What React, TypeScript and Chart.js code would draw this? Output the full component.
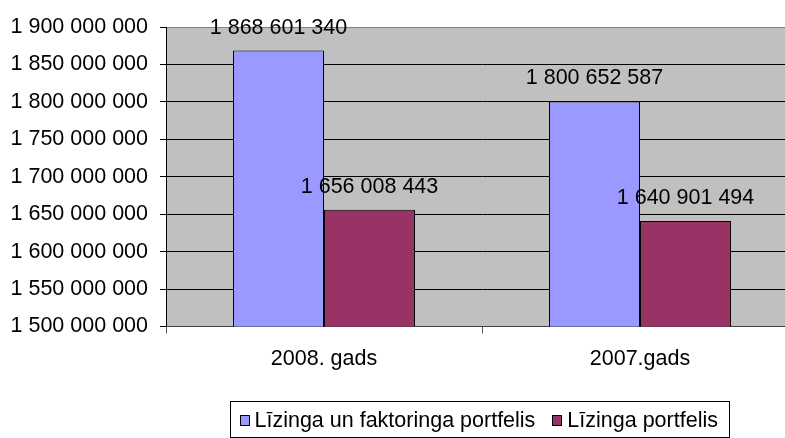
import React, { useEffect, useRef } from "react";
import { Chart, registerables } from "chart.js";

Chart.register(...registerables);

const categories = ["2008. gads", "2007.gads"];
const seriesNames = ["Līzinga un faktoringa portfelis", "Līzinga portfelis"];
const totalPortfolio = [1868601340, 1800652587];
const leasingPortfolio = [1656008443, 1640901494];
const seriesColors = ["#9999FF", "#993366"];
const yMin = 1500000000;
const yMax = 1900000000;
const yStep = 50000000;

const FONT = '"Liberation Sans", Arial, sans-serif';
const FS = 21.5;

const fmt = (v: number) =>
  Math.round(v).toString().replace(/\B(?=(\d{3})+(?!\d))/g, " ");

const bgPlugin = {
  id: "bgPlugin",
  beforeDraw(chart: any) {
    const { ctx, chartArea } = chart;
    ctx.save();
    ctx.fillStyle = "#C0C0C0";
    ctx.fillRect(chartArea.left, chartArea.top, chartArea.right - chartArea.left, chartArea.bottom - chartArea.top);
    ctx.restore();
  },
};

const labelPlugin = {
  id: "labelPlugin",
  afterDatasetsDraw(chart: any) {
    const { ctx } = chart;
    ctx.save();
    ctx.font = `${FS}px ${FONT}`;
    ctx.fillStyle = "#000";
    ctx.textAlign = "center";
    ctx.textBaseline = "alphabetic";
    chart.data.datasets.forEach((ds: any, di: number) => {
      const meta = chart.getDatasetMeta(di);
      meta.data.forEach((el: any, i: number) => {
        ctx.fillText(fmt(ds.data[i]), el.x, el.y - 17);
      });
    });
    ctx.restore();
  },
};

const legendPlugin = {
  id: "legendPlugin",
  afterDraw(chart: any) {
    const { ctx } = chart;
    ctx.save();
    ctx.font = `${FS}px ${FONT}`;
    const w1 = ctx.measureText(seriesNames[0]).width;
    const w2 = ctx.measureText(seriesNames[1]).width;
    const gap = 17;
    const total = 24 + w1 + gap + 15 + w2 + 12;
    const center = 480;
    const left = Math.round(center - total / 2) + 0.5;
    const top = 401.5;
    const h = 36;
    ctx.strokeStyle = "#000";
    ctx.lineWidth = 1;
    ctx.strokeRect(left, top, Math.round(total), h);
    const baseline = 427;
    const sq2 = left + 24 + w1 + gap;
    const items = [
      { x: left + 9, tx: left + 24, text: seriesNames[0], color: seriesColors[0] },
      { x: sq2, tx: sq2 + 15, text: seriesNames[1], color: seriesColors[1] },
    ];
    items.forEach((it) => {
      const sx = Math.round(it.x) + 0.5;
      ctx.fillStyle = it.color;
      ctx.fillRect(sx, 415.5, 9, 10);
      ctx.strokeStyle = "#000";
      ctx.strokeRect(sx, 415.5, 9, 10);
      ctx.fillStyle = "#000";
      ctx.textAlign = "left";
      ctx.textBaseline = "alphabetic";
      ctx.fillText(it.text, it.tx, baseline);
    });
    ctx.restore();
  },
};

export default function App() {
  const ref = useRef<HTMLCanvasElement>(null);
  useEffect(() => {
    document.body.style.margin = "0";
    const chart = new Chart(ref.current as HTMLCanvasElement, {
      type: "bar",
      data: {
        labels: categories,
        datasets: [
          {
            label: seriesNames[0],
            data: totalPortfolio,
            backgroundColor: seriesColors[0],
            borderColor: "#000",
            borderWidth: 1,
          },
          {
            label: seriesNames[1],
            data: leasingPortfolio,
            backgroundColor: seriesColors[1],
            borderColor: "#000",
            borderWidth: 1,
          },
        ],
      },
      options: {
        responsive: false,
        animation: false,
        layout: { padding: { top: 27, left: 0, right: 2, bottom: 60 } },
        plugins: {
          legend: { display: false },
          tooltip: { enabled: false },
        },
        datasets: {
          bar: { categoryPercentage: 0.576, barPercentage: 1 },
        },
        scales: {
          x: {
            grid: {
              offset: true,
              drawOnChartArea: false,
              tickLength: 7,
              color: "#555",
            },
            border: { color: "#404040", width: 1 },
            ticks: {
              padding: 13,
              color: "#000",
              font: { family: FONT, size: FS },
              maxRotation: 0,
            },
            afterFit(scale: any) {
              scale.height = 438 - 60 - 326.5;
            },
          },
          y: {
            min: yMin,
            max: yMax,
            grid: {
              color: (c: any) => (c.tick && c.tick.value === yMax ? "#808080" : "#000"),
              tickColor: "#000",
              tickLength: 6,
            },
            border: { color: "#000", width: 1 },
            ticks: {
              stepSize: yStep,
              padding: 12,
              color: "#000",
              font: { family: FONT, size: FS },
              callback: (v: any) => fmt(Number(v)),
            },
            afterFit(scale: any) {
              scale.width = 166;
            },
          },
        },
      },
      plugins: [bgPlugin, labelPlugin, legendPlugin],
    });
    return () => chart.destroy();
  }, []);
  return (
    <div style={{ width: 785, height: 438, overflow: "hidden", background: "#fff" }}>
      <canvas ref={ref} width={800} height={438} style={{ display: "block" }} />
    </div>
  );
}
